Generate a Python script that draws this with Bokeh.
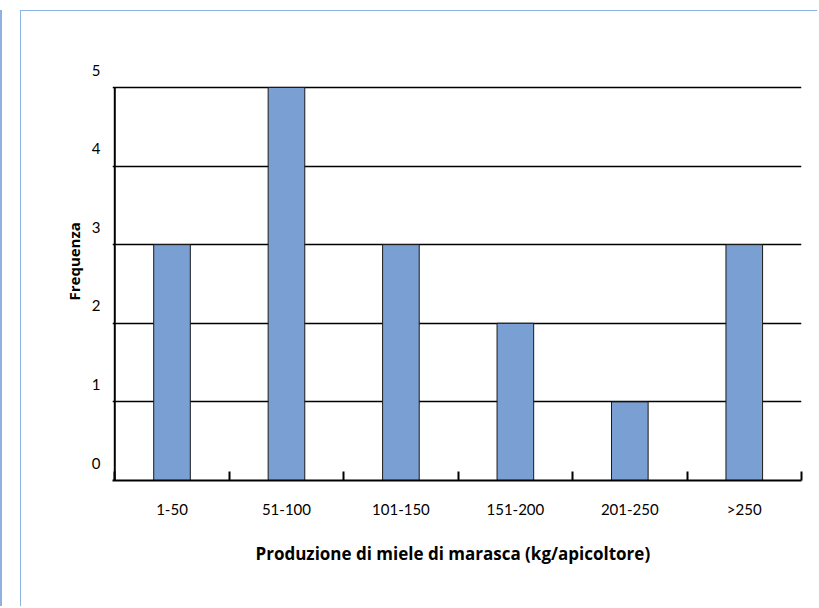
from bokeh.plotting import figure
from bokeh.models import FixedTicker, CustomJSTickFormatter, Range1d, ColumnDataSource, Title
from bokeh.embed import file_html
from bokeh.resources import INLINE

categories = ["1-50", "51-100", "101-150", "151-200", "201-250", ">250"]
frequencies = [3, 5, 3, 2, 1, 3]
y_ticks = [0, 1, 2, 3, 4, 5]
x_title = "Produzione di miele di marasca (kg/apicoltore)"
y_title = "Frequenza"

FONT = "Lato"
TITLE_FONT = "Open Sans"
W, H = 797, 596
LABEL_SHIFT = 0.22

src = ColumnDataSource(dict(
    x=[i + 0.5 for i in range(len(categories))],
    top=frequencies,
    cat=categories,
))

p = figure(width=W, height=H, output_backend="svg", toolbar_location=None,
           x_range=Range1d(-0.02, len(categories)), y_range=Range1d(0, 5.343),
           min_border_left=91, min_border_right=17, min_border_top=49, min_border_bottom=127,
           margin=(10, 0, 0, 20))
p.styles = {
    "border-left": "1px solid #8DB3E2",
    "border-top": "1px solid #8DB3E2",
    "box-shadow": "-18px 0 0 0 white, -20px 0 0 0 #8FB0E0",
}
p.outline_line_color = None
p.background_fill_color = "white"
p.border_fill_color = "white"

# grid
p.xgrid.visible = False
p.ygrid.ticker = FixedTicker(ticks=y_ticks)
p.ygrid.grid_line_color = "black"
p.ygrid.grid_line_width = 1.6

# bars
p.vbar(x="x", top="top", width=0.32, bottom=0, source=src,
       fill_color="#7A9FD2", line_color="#1a1a1a", line_width=1)

# left vertical line (value axis)
p.segment(x0=[0], y0=[min(y_ticks)], x1=[0], y1=[max(y_ticks)], line_color="black", line_width=2)

# y axis
ya = p.yaxis[0]
ya.ticker = FixedTicker(ticks=[t + LABEL_SHIFT for t in y_ticks])
ya.formatter = CustomJSTickFormatter(args=dict(s=LABEL_SHIFT), code="return Math.round(tick - s).toFixed(0)")
ya.axis_line_color = None
ya.major_tick_line_color = None
ya.minor_tick_line_color = None
ya.major_label_standoff = 6
ya.major_label_text_font = FONT
ya.major_label_text_font_size = "15px"
ya.major_label_text_color = "black"

yt = Title(text=y_title, align="left", offset=180, standoff=9,
           text_font=TITLE_FONT, text_font_style="bold", text_font_size="15px", text_color="black")
p.add_layout(yt, "left")

# x axis
xa = p.xaxis[0]
xa.ticker = FixedTicker(ticks=[i + 0.5 for i in range(len(categories))],
                        minor_ticks=list(range(len(categories) + 1)))
xa.formatter = CustomJSTickFormatter(args=dict(cats=categories), code="return cats[Math.floor(tick)]")
xa.axis_line_color = "black"
xa.axis_line_width = 2
xa.major_tick_line_color = None
xa.minor_tick_line_color = "black"
xa.minor_tick_line_width = 2
xa.minor_tick_in = 9
xa.minor_tick_out = 0
xa.major_label_standoff = 13
xa.major_label_text_font = FONT
xa.major_label_text_font_size = "15px"
xa.major_label_text_color = "black"

xt = Title(text=x_title, align="left", offset=143, standoff=39,
           text_font=TITLE_FONT, text_font_style="bold", text_font_size="17px", text_color="black")
p.add_layout(xt, "below")

open("out.html", "w").write(file_html(p, INLINE))
